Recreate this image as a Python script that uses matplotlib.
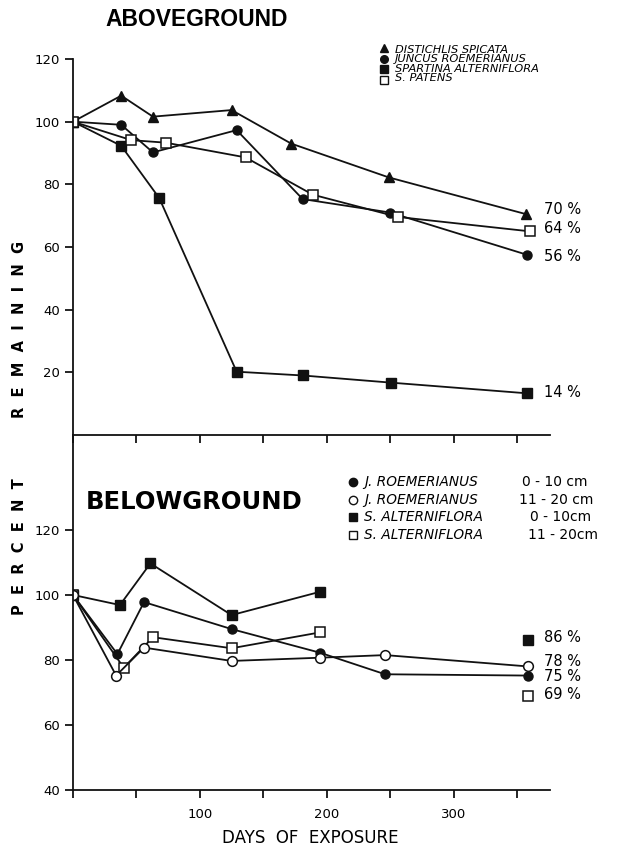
import matplotlib.pyplot as plt

plt.rcParams['font.family'] = ['DejaVu Sans']

# aboveground (days, percent remaining)
dist_days = [0, 38, 63, 125, 172, 249, 357]
dist_vals = [100, 108.3, 101.6, 103.7, 93, 82.2, 70.5]
junc_days = [0, 38, 63, 129, 181, 250, 358]
junc_vals = [100, 99, 90.2, 97.3, 75.3, 71, 57.5]
spar_days = [0, 38, 68, 129, 181, 251, 358]
spar_vals = [100, 92.3, 75.6, 20.2, 19, 16.7, 13.3]
pat_days = [0, 46, 73, 136, 189, 256, 360]
pat_vals = [100, 94.1, 93.3, 88.6, 76.7, 69.6, 65]
above_pct = ['70 %', '64 %', '56 %', '14 %']
above_pct_y = [72, 66, 57, 13.5]

# belowground
jr1_days = [0, 35, 56, 125, 195, 246, 359]
jr1_vals = [100, 81.8, 97.8, 89.5, 82.2, 75.6, 75.2]
jr2_days = [0, 34, 56, 125, 195, 246, 359]
jr2_vals = [100, 75.2, 83.8, 79.7, 80.7, 81.5, 78]
sa1_days = [0, 37, 61, 125, 195]
sa1_vals = [100, 96.9, 109.7, 93.8, 101]
sa2_days = [0, 40, 63, 125, 195]
sa2_vals = [100, 77.6, 87, 83.6, 88.5]
sa_end_day = 359
sa1_end = 86
sa2_end = 69
below_pct = ['86 %', '78 %', '75 %', '69 %']
below_pct_y = [87, 79.5, 75.0, 69.5]

fig = plt.figure(figsize=(6.19, 8.47), dpi=100)
x0 = 73 / 619
w = (550 - 73) / 619
ax1 = fig.add_axes([x0, 1 - 435 / 847, w, (435 - 59) / 847])
ax2 = fig.add_axes([x0, 1 - 790 / 847, w, (790 - 435) / 847])

lw = 1.3
ms = 6.5
k = '#111111'
ax1.plot(dist_days, dist_vals, '-^', color=k, lw=lw, ms=ms + 0.5, mfc=k, mec=k)
ax1.plot(junc_days, junc_vals, '-o', color=k, lw=lw, ms=ms, mfc=k, mec=k)
ax1.plot(spar_days, spar_vals, '-s', color=k, lw=lw, ms=ms, mfc=k, mec=k)
ax1.plot(pat_days, pat_vals, '-s', color=k, lw=lw, ms=ms + 0.5, mfc='white', mec=k, mew=1.1)

ax2.plot(sa1_days, sa1_vals, '-s', color=k, lw=lw, ms=ms, mfc=k, mec=k)
ax2.plot(jr1_days, jr1_vals, '-o', color=k, lw=lw, ms=ms, mfc=k, mec=k)
ax2.plot(sa2_days, sa2_vals, '-s', color=k, lw=lw, ms=ms + 0.5, mfc='white', mec=k, mew=1.1)
ax2.plot(jr2_days, jr2_vals, '-o', color=k, lw=lw, ms=ms + 0.5, mfc='white', mec=k, mew=1.1)
ax2.plot([sa_end_day], [sa1_end], 's', ms=ms, mfc=k, mec=k)
ax2.plot([sa_end_day], [sa2_end], 's', ms=ms, mfc='white', mec=k, mew=1.1)

for ax in (ax1, ax2):
    ax.set_xlim(0, 376)
    ax.spines['top'].set_visible(False)
    ax.spines['right'].set_visible(False)
    ax.spines['left'].set_linewidth(1.3)
    ax.spines['bottom'].set_linewidth(1.3)
    ax.set_xticks([0, 50, 100, 150, 200, 250, 300, 350])
    ax.tick_params(direction='out', length=6, width=1.2, labelsize=9.5)
    for s in ('left', 'bottom'):
        ax.spines[s].set_color(k)

ax1.set_ylim(0, 120)
ax1.set_yticks([20, 40, 60, 80, 100, 120])
ax1.set_xticklabels([])
ax1.patch.set_alpha(0)

ax2.set_ylim(40, 149.2)
ax2.set_yticks([40, 60, 80, 100, 120])
ax2.set_xticklabels(['', '', '100', '', '200', '', '300', ''])
ax2.tick_params(axis='x', pad=7)
ax2.patch.set_alpha(0)

for t, yv in zip(above_pct, above_pct_y):
    ax1.text(371, yv, t, fontsize=10.5, va='center', ha='left')
for t, yv in zip(below_pct, below_pct_y):
    ax2.text(371, yv, t, fontsize=10.5, va='center', ha='left')

fig.text(105 / 619, 1 - 19 / 847, 'ABOVEGROUND', fontsize=16.5, weight='bold',
         family='Liberation Sans', va='center', ha='left')
fig.text(86 / 619, 1 - 502 / 847, 'BELOWGROUND', fontsize=17.5, weight='bold',
         va='center', ha='left')

# legend, aboveground
leg1_markers = ['^', 'o', 's', 's']
leg1_fills = [k, k, k, 'white']
leg1_labels = ['DISTICHLIS SPICATA', 'JUNCUS ROEMERIANUS',
               'SPARTINA ALTERNIFLORA', 'S. PATENS']
for i, (m, fc) in enumerate(zip(leg1_markers, leg1_fills)):
    yy = 1 - (48 + 10.6 * i) / 847
    fig.lines.append(plt.Line2D([384 / 619], [yy], marker=m, ms=5.5, mfc=fc, mec=k,
                                mew=1, transform=fig.transFigure, ls='none'))
fig.text(395 / 619, 1 - 63.9 / 847, '\n'.join(leg1_labels), fontsize=8.2,
         style='italic', va='center', ha='left', linespacing=0.93)

# legend, belowground
leg2 = [('o', k, 'J. ROEMERIANUS', '0 - 10 cm', 522),
        ('o', 'white', 'J. ROEMERIANUS', '11 - 20 cm', 519),
        ('s', k, 'S. ALTERNIFLORA', '0 - 10cm', 530),
        ('s', 'white', 'S. ALTERNIFLORA', '11 - 20cm', 528)]
for i, (m, fc, lab, dep, dx) in enumerate(leg2):
    yy = 1 - (482 + 17.6 * i) / 847
    fig.lines.append(plt.Line2D([353 / 619], [yy], marker=m, ms=6, mfc=fc, mec=k,
                                mew=1, transform=fig.transFigure, ls='none'))
    fig.text(364 / 619, yy, lab, fontsize=9.8, style='italic', va='center', ha='left')
    fig.text(dx / 619, yy, dep, fontsize=10, va='center', ha='left')

fig.text(20 / 619, 1 - 547 / 847, 'P  E  R  C  E  N  T', rotation=90,
         fontsize=10.5, weight='bold', va='center', ha='center')
fig.text(20 / 619, 1 - 329 / 847, 'R  E  M  A  I  N  I  N  G', rotation=90,
         fontsize=10.5, weight='bold', va='center', ha='center')
fig.text(310 / 619, 1 - 838 / 847, 'DAYS  OF  EXPOSURE', fontsize=12, va='center', ha='center')

fig.savefig('out.png', dpi=100)
